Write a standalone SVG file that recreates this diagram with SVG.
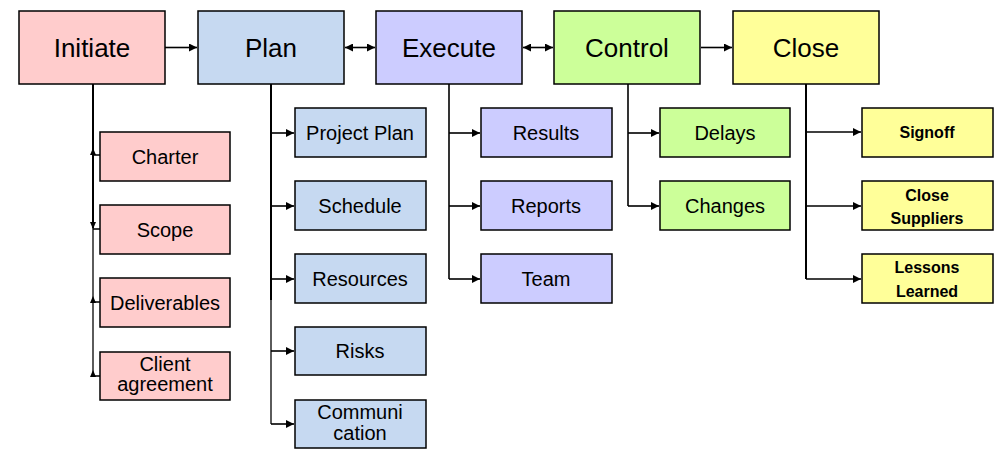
<svg xmlns="http://www.w3.org/2000/svg" width="999" height="464" viewBox="0 0 999 464">
<defs>
<marker id="ah" viewBox="0 0 10 10" refX="10" refY="5" markerWidth="8" markerHeight="8" markerUnits="userSpaceOnUse" orient="auto-start-reverse">
<path d="M0,0 L10,5 L0,10 z" fill="#000"/>
</marker>
<style>
rect{stroke:#000;stroke-width:1.5}
.ini{fill:#FFCCCC}.pln{fill:#C6D9F1}.exe{fill:#CCCCFF}.ctl{fill:#CCFF99}.cls{fill:#FFFF99}
text{font-family:"Liberation Sans",Arial,sans-serif;fill:#000;text-anchor:middle}
.big{font-size:26px}
.sm{font-size:20px}
.bd{font-size:16px;font-weight:bold}
.c{fill:none;stroke:#000;stroke-width:1.6}
.t{fill:none;stroke:#000;stroke-width:2}
.g{fill:none;stroke:#333;stroke-width:1.6}
</style>
</defs>
<g id="connectors">
<path class="c" d="M165,47.5 H197" marker-end="url(#ah)"/>
<path class="c" d="M345,47.5 H375" marker-start="url(#ah)" marker-end="url(#ah)"/>
<path class="c" d="M523,47.5 H553" marker-start="url(#ah)" marker-end="url(#ah)"/>
<path class="c" d="M701,47.5 H732" marker-end="url(#ah)"/>
<path class="t" d="M93,84 V228"/>
<path class="g" d="M93,228 V377"/>
<path class="c" d="M93,155 H100 M93,229 H100 M93,302 H100 M93,376 H100"/>
<polygon points="93,148 90,155 96,155" fill="#000"/>
<polygon points="93,229 90,222 96,222" fill="#000"/>
<polygon points="93,296 90,303 96,303" fill="#000"/>
<polygon points="93,370 90,377 96,377" fill="#000"/>
<path class="t" d="M271,84 V300"/>
<path class="g" d="M271,300 V424"/>
<path class="c" d="M271,133 H294" marker-end="url(#ah)"/>
<path class="c" d="M271,206 H294" marker-end="url(#ah)"/>
<path class="c" d="M271,279 H294" marker-end="url(#ah)"/>
<path class="c" d="M271,351 H294" marker-end="url(#ah)"/>
<path class="c" d="M271,424 H294" marker-end="url(#ah)"/>
<path class="c" d="M449,84 V279"/>
<path class="c" d="M449,133 H480" marker-end="url(#ah)"/>
<path class="c" d="M449,206 H480" marker-end="url(#ah)"/>
<path class="c" d="M449,279 H480" marker-end="url(#ah)"/>
<path class="c" d="M628,84 V206"/>
<path class="c" d="M628,133 H659" marker-end="url(#ah)"/>
<path class="c" d="M628,206 H659" marker-end="url(#ah)"/>
<path class="t" d="M806,84 V279"/>
<path class="c" d="M806,132 H861" marker-end="url(#ah)"/>
<path class="c" d="M806,206 H861" marker-end="url(#ah)"/>
<path class="c" d="M806,279 H861" marker-end="url(#ah)"/>
</g>
<g id="initiate"><rect class="ini" x="19" y="11" width="146" height="73"/><text class="big" x="92" y="57">Initiate</text></g>
<g id="plan"><rect class="pln" x="198" y="11" width="146" height="73"/><text class="big" x="271" y="57">Plan</text></g>
<g id="execute"><rect class="exe" x="376" y="11" width="146" height="73"/><text class="big" x="449" y="57">Execute</text></g>
<g id="control"><rect class="ctl" x="554" y="11" width="146" height="73"/><text class="big" x="627" y="57">Control</text></g>
<g id="close"><rect class="cls" x="733" y="11" width="146" height="73"/><text class="big" x="806" y="57">Close</text></g>

<g id="charter"><rect class="ini" x="100" y="132" width="130" height="49"/><text class="sm" x="165" y="164">Charter</text></g>
<g id="scope"><rect class="ini" x="100" y="205" width="130" height="49"/><text class="sm" x="165" y="237">Scope</text></g>
<g id="deliverables"><rect class="ini" x="100" y="278" width="130" height="49"/><text class="sm" x="165" y="310">Deliverables</text></g>
<g id="client-agreement"><rect class="ini" x="100" y="352" width="130" height="48"/><text class="sm" x="165" y="371">Client</text><text class="sm" x="165" y="391">agreement</text></g>

<g id="project-plan"><rect class="pln" x="295" y="108" width="131" height="49"/><text class="sm" x="360" y="140">Project Plan</text></g>
<g id="schedule"><rect class="pln" x="295" y="181" width="131" height="49"/><text class="sm" x="360" y="213">Schedule</text></g>
<g id="resources"><rect class="pln" x="295" y="254" width="131" height="49"/><text class="sm" x="360" y="286">Resources</text></g>
<g id="risks"><rect class="pln" x="295" y="327" width="131" height="48"/><text class="sm" x="360" y="358">Risks</text></g>
<g id="communication"><rect class="pln" x="295" y="400" width="131" height="48"/><text class="sm" x="360" y="419">Communi</text><text class="sm" x="360" y="440">cation</text></g>

<g id="results"><rect class="exe" x="481" y="108" width="131" height="49"/><text class="sm" x="546" y="140">Results</text></g>
<g id="reports"><rect class="exe" x="481" y="181" width="131" height="49"/><text class="sm" x="546" y="213">Reports</text></g>
<g id="team"><rect class="exe" x="481" y="254" width="131" height="49"/><text class="sm" x="546" y="286">Team</text></g>

<g id="delays"><rect class="ctl" x="660" y="108" width="130" height="49"/><text class="sm" x="725" y="140">Delays</text></g>
<g id="changes"><rect class="ctl" x="660" y="181" width="130" height="49"/><text class="sm" x="725" y="213">Changes</text></g>

<g id="signoff"><rect class="cls" x="862" y="108" width="131" height="49"/><text class="bd" x="927" y="138">Signoff</text></g>
<g id="close-suppliers"><rect class="cls" x="862" y="181" width="131" height="49"/><text class="bd" x="927" y="201">Close</text><text class="bd" x="927" y="224">Suppliers</text></g>
<g id="lessons-learned"><rect class="cls" x="862" y="254" width="131" height="49"/><text class="bd" x="927" y="273">Lessons</text><text class="bd" x="927" y="297">Learned</text></g>
</svg>
